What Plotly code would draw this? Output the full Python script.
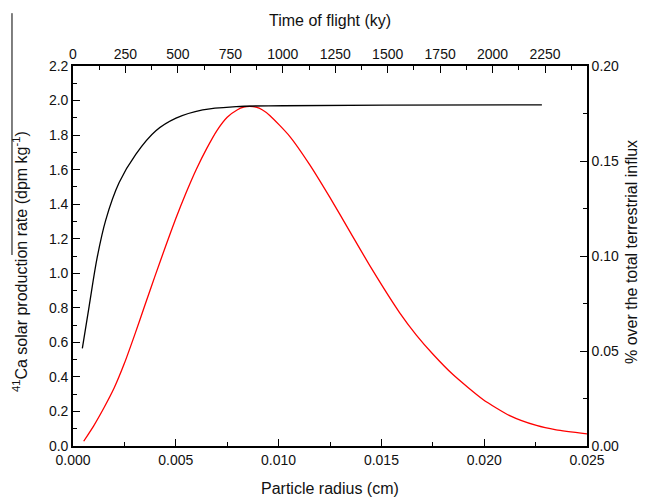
import plotly.graph_objects as go

# Red curve: % over total terrestrial influx vs particle radius (cm)
radius_cm = [0.00052, 0.0010, 0.0015, 0.0020, 0.0025, 0.0030, 0.0035, 0.0040, 0.0045,
             0.0050, 0.0055, 0.0060, 0.0065, 0.0070, 0.0075, 0.0080, 0.0083, 0.0086,
             0.0089, 0.0092, 0.00957, 0.01054, 0.01151, 0.01248, 0.01346, 0.01451,
             0.01589, 0.0167, 0.01751, 0.01848, 0.01994, 0.02124, 0.02254, 0.0235, 0.025]
influx_pct = [0.0025, 0.0105, 0.0200, 0.0305, 0.0435, 0.0585, 0.0742, 0.0898, 0.1050,
              0.1197, 0.1333, 0.1457, 0.1565, 0.1660, 0.1730, 0.1770, 0.1783, 0.1787,
              0.1783, 0.1770, 0.1740, 0.1630, 0.1481, 0.1311, 0.1130, 0.0936,
              0.0701, 0.0584, 0.0483, 0.0376, 0.0245, 0.0160, 0.0108, 0.0085, 0.0064]

# Black curve: 41Ca solar production rate (dpm/kg) vs time of flight (ky)
time_ky = [44.5, 76.5, 116, 156, 220, 300, 395, 491, 618, 778, 1000, 1500, 2235]
prod_rate = [0.565, 0.806, 1.096, 1.308, 1.525, 1.69, 1.825, 1.898, 1.946, 1.965,
             1.970, 1.973, 1.975]

FONT = "Arial, Liberation Sans, sans-serif"

fig = go.Figure()
# red: main subplot (bottom x, right y)
fig.add_trace(go.Scatter(x=radius_cm, y=influx_pct, mode="lines", xaxis="x", yaxis="y",
                         line=dict(color="#ff0000", width=1.3, shape="spline", smoothing=0.6),
                         showlegend=False))
# black: overlay subplot (top x, left y)
fig.add_trace(go.Scatter(x=time_ky, y=prod_rate, mode="lines", xaxis="x2", yaxis="y2",
                         line=dict(color="black", width=1.3, shape="spline", smoothing=1.0),
                         showlegend=False))

axis_common = dict(showline=True, linecolor="black", linewidth=1.6, ticks="inside",
                   ticklen=7, tickwidth=1.4, tickcolor="black", showgrid=False,
                   zeroline=False, tickfont=dict(family=FONT, size=14, color="#111"))

# page body has an 8px margin: figure sized so the plot area lands where the reference has it
fig.update_layout(
    width=638, height=489,
    margin=dict(l=65, r=59, t=58, b=51),
    paper_bgcolor="white", plot_bgcolor="white",
    font=dict(family=FONT, size=14, color="#111"),
    xaxis=dict(range=[0, 0.025], dtick=0.005, tick0=0, tickformat=".3f", anchor="y",
               minor=dict(ticks="inside", ticklen=4, dtick=0.0025, tickcolor="black", tickwidth=1.2),
               **axis_common),
    xaxis2=dict(range=[0, 2450], dtick=250, tick0=0, overlaying="x", side="top", anchor="y",
                minor=dict(ticks="inside", ticklen=4, dtick=125, tickcolor="black", tickwidth=1.2),
                **axis_common),
    yaxis=dict(range=[0, 0.20], dtick=0.05, tick0=0, tickformat=".2f", side="right", anchor="x",
               minor=dict(ticks="inside", ticklen=4, dtick=0.025, tickcolor="black", tickwidth=1.2),
               **axis_common),
    yaxis2=dict(range=[0, 2.2], dtick=0.2, tick0=0, tickformat=".1f", overlaying="y", side="left",
                anchor="x",
                minor=dict(ticks="inside", ticklen=4, dtick=0.1, tickcolor="black", tickwidth=1.2),
                **axis_common),
)

title_font = dict(family=FONT, size=16, color="#111")
fig.add_annotation(text="Particle radius (cm)", xref="paper", yref="paper", x=0.5, y=0,
                   yanchor="middle", yshift=-42, showarrow=False, font=title_font)
fig.add_annotation(text="Time of flight (ky)", xref="paper", yref="paper", x=0.5, y=1,
                   yanchor="middle", yshift=46, showarrow=False, font=title_font)
fig.add_annotation(text="<sup>41</sup>Ca solar production rate (dpm kg<sup>-1</sup>)",
                   xref="paper", yref="paper", x=0, y=0.5, xanchor="center", yanchor="middle",
                   xshift=-53, yshift=-6, textangle=-90, showarrow=False, font=title_font)
fig.add_annotation(text="% over the total terrestrial influx",
                   xref="paper", yref="paper", x=1, y=0.5, xanchor="center", yanchor="middle",
                   xshift=44, yshift=4, textangle=-90, showarrow=False, font=title_font)

# thin vertical rule at far left seen in the original figure
fig.add_shape(type="line", xref="paper", yref="paper", x0=-0.1187, x1=-0.1187,
              y0=0.5026, y1=1.139, line=dict(color="black", width=1))

fig.write_html("out.html")
